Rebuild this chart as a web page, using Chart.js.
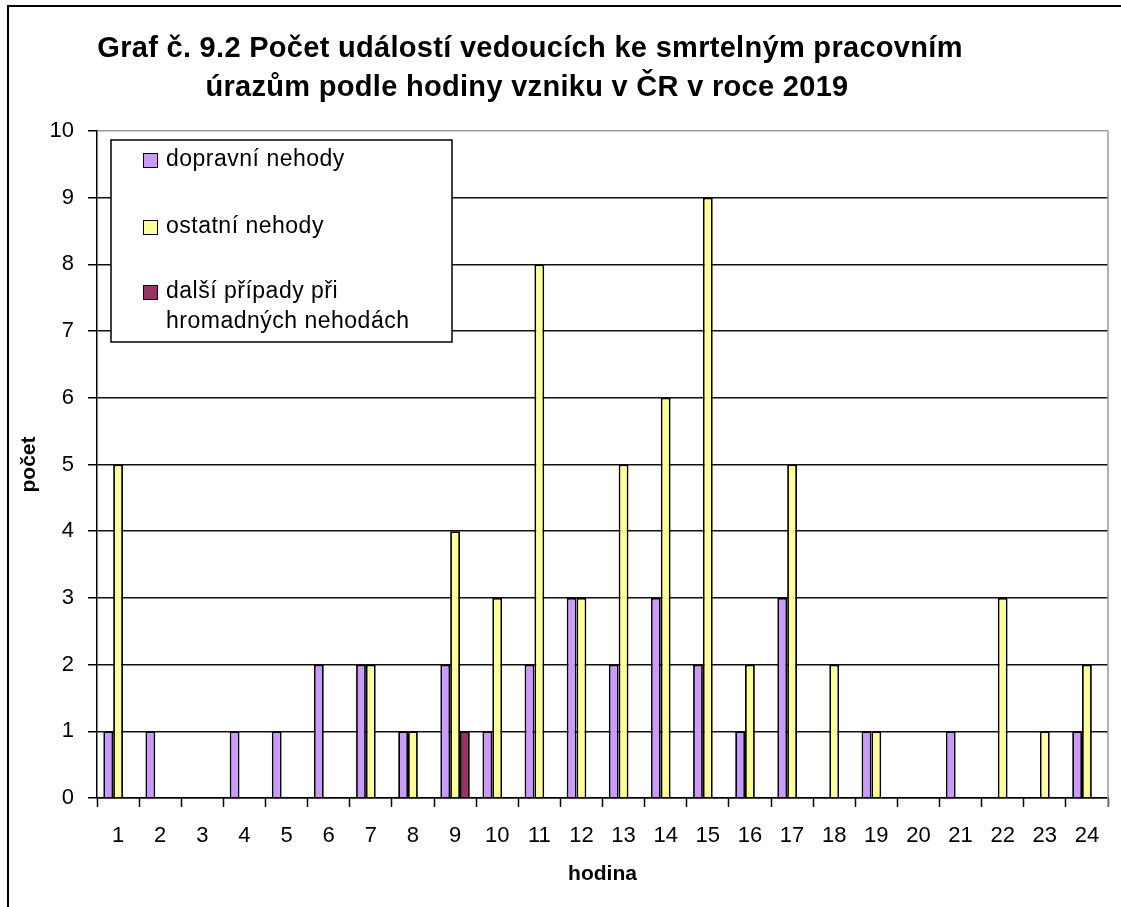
<!DOCTYPE html>
<html lang="cs">
<head>
<meta charset="utf-8">
<title>Graf č. 9.2</title>
<script src="https://cdn.jsdelivr.net/npm/chart.js@4.4.1/dist/chart.umd.min.js"></script>
<style>
  html, body { margin: 0; padding: 0; background: #fff; }
  canvas { display: block; }
</style>
</head>
<body>
<canvas id="chart" width="1121" height="907"></canvas>
<script>
// hodina vzniku 1..24
const hodiny = ['1', '2', '3', '4', '5', '6', '7', '8', '9', '10', '11', '12',
                '13', '14', '15', '16', '17', '18', '19', '20', '21', '22', '23', '24'];

const dopravniNehody = [1, 1, 0, 1, 1, 2, 2, 1, 2, 1, 2, 3, 2, 3, 2, 1, 3, 0, 1, 0, 1, 0, 0, 1];
const ostatniNehody  = [5, 0, 0, 0, 0, 0, 2, 1, 4, 3, 8, 3, 5, 6, 9, 2, 5, 2, 1, 0, 0, 3, 1, 2];
const dalsiPripady   = [0, 0, 0, 0, 0, 0, 0, 0, 1, 0, 0, 0, 0, 0, 0, 0, 0, 0, 0, 0, 0, 0, 0, 0];

const nazvySerii = ['dopravní nehody', 'ostatní nehody', ['další případy při', 'hromadných nehodách']];
const barvy = ['#CC99FF', '#FFFF99', '#993366'];

const nadpis = ['Graf č. 9.2 Počet událostí vedoucích ke smrtelným pracovním',
                'úrazům podle hodiny vzniku v ČR v roce 2019'];
const popisY = 'počet';
const popisX = 'hodina';

const FONT = '"Liberation Sans", Arial, sans-serif';

// ramecek, nadpis, popisky os a legenda se kresli rucne
const vzhled = {
  id: 'vzhled',
  beforeDraw(chart) {
    const ctx = chart.ctx;
    ctx.save();
    ctx.fillStyle = '#fff';
    ctx.fillRect(0, 0, chart.width, chart.height);
    ctx.strokeStyle = '#000';
    ctx.lineWidth = 2;
    ctx.beginPath();
    ctx.moveTo(8, chart.height);
    ctx.lineTo(8, 6);
    ctx.lineTo(chart.width, 6);
    ctx.stroke();

    ctx.fillStyle = '#000';
    ctx.font = 'bold 29px ' + FONT;
    ctx.textAlign = 'center';
    ctx.textBaseline = 'alphabetic';
    if ('letterSpacing' in ctx) ctx.letterSpacing = '0.3px';
    ctx.fillText(nadpis[0], 530, 57);
    ctx.fillText(nadpis[1], 527, 96);
    if ('letterSpacing' in ctx) ctx.letterSpacing = '0px';

    const a = chart.chartArea;
    ctx.font = 'bold 21px ' + FONT;
    ctx.textBaseline = 'middle';
    ctx.fillText(popisX, (a.left + a.right) / 2, 874);
    ctx.translate(29, (a.top + a.bottom) / 2);
    ctx.rotate(-Math.PI / 2);
    ctx.fillText(popisY, 0, 0);
    ctx.restore();
  },
  afterDatasetsDraw(chart) {
    const ctx = chart.ctx;
    const a = chart.chartArea;
    ctx.save();
    // pravy okraj plochy grafu
    ctx.strokeStyle = '#999';
    ctx.lineWidth = 1.5;
    ctx.beginPath();
    ctx.moveTo(a.right, a.top);
    ctx.lineTo(a.right, a.bottom + 9);
    ctx.stroke();

    // legenda
    const lx = 111, ly = 140, lw = 341, lh = 202;
    ctx.fillStyle = '#fff';
    ctx.fillRect(lx, ly, lw, lh);
    ctx.strokeStyle = '#000';
    ctx.lineWidth = 1.5;
    ctx.strokeRect(lx, ly, lw, lh);
    ctx.font = '23px ' + FONT;
    ctx.textBaseline = 'middle';
    ctx.textAlign = 'left';
    if ('letterSpacing' in ctx) ctx.letterSpacing = '0.5px';
    const radky = [160, 227, 292];
    nazvySerii.forEach((nazev, i) => {
      const y = radky[i];
      ctx.fillStyle = barvy[i];
      ctx.fillRect(143, y - 7, 14, 14);
      ctx.strokeStyle = '#000';
      ctx.lineWidth = 1;
      ctx.strokeRect(143.5, y - 6.5, 14, 14);
      ctx.fillStyle = '#000';
      const texty = Array.isArray(nazev) ? nazev : [nazev];
      texty.forEach((t, j) => ctx.fillText(t, 166, y + j * 30));
    });
    ctx.restore();
  }
};

const sady = [dopravniNehody, ostatniNehody, dalsiPripady].map((hodnoty, i) => ({
  label: Array.isArray(nazvySerii[i]) ? nazvySerii[i].join(' ') : nazvySerii[i],
  data: hodnoty,
  backgroundColor: barvy[i],
  borderColor: '#000',
  borderWidth: 1.8,
  categoryPercentage: 0.7,
  barPercentage: 1
}));

const ctx = document.getElementById('chart').getContext('2d');
new Chart(ctx, {
  type: 'bar',
  data: {
    labels: hodiny,
    datasets: sady
  },
  options: {
    responsive: false,
    animation: false,
    layout: { padding: { top: 131, right: 13, left: 0, bottom: 0 } },
    plugins: {
      legend: { display: false },
      title: { display: false },
      tooltip: { enabled: false }
    },
    scales: {
      x: {
        afterFit(scale) { scale.height = 907 - 798; },
        grid: {
          offset: true,
          drawOnChartArea: false,
          tickLength: 9,
          tickColor: '#000',
          tickWidth: 1.5
        },
        border: { color: '#000', width: 1.5 },
        ticks: {
          color: '#000',
          padding: 16,
          maxRotation: 0,
          font: { family: FONT, size: 22 }
        }
      },
      y: {
        min: 0,
        max: 10,
        afterFit(scale) { scale.width = 97; },
        grid: {
          color: c => c.tick && c.tick.value === 10 ? '#999' : '#111',
          lineWidth: 1.5,
          tickLength: 9,
          tickColor: '#000'
        },
        border: { color: '#000', width: 1.5 },
        ticks: {
          stepSize: 1,
          color: '#000',
          padding: 14,
          font: { family: FONT, size: 22 }
        }
      }
    }
  },
  plugins: [vzhled]
});
</script>
</body>
</html>
